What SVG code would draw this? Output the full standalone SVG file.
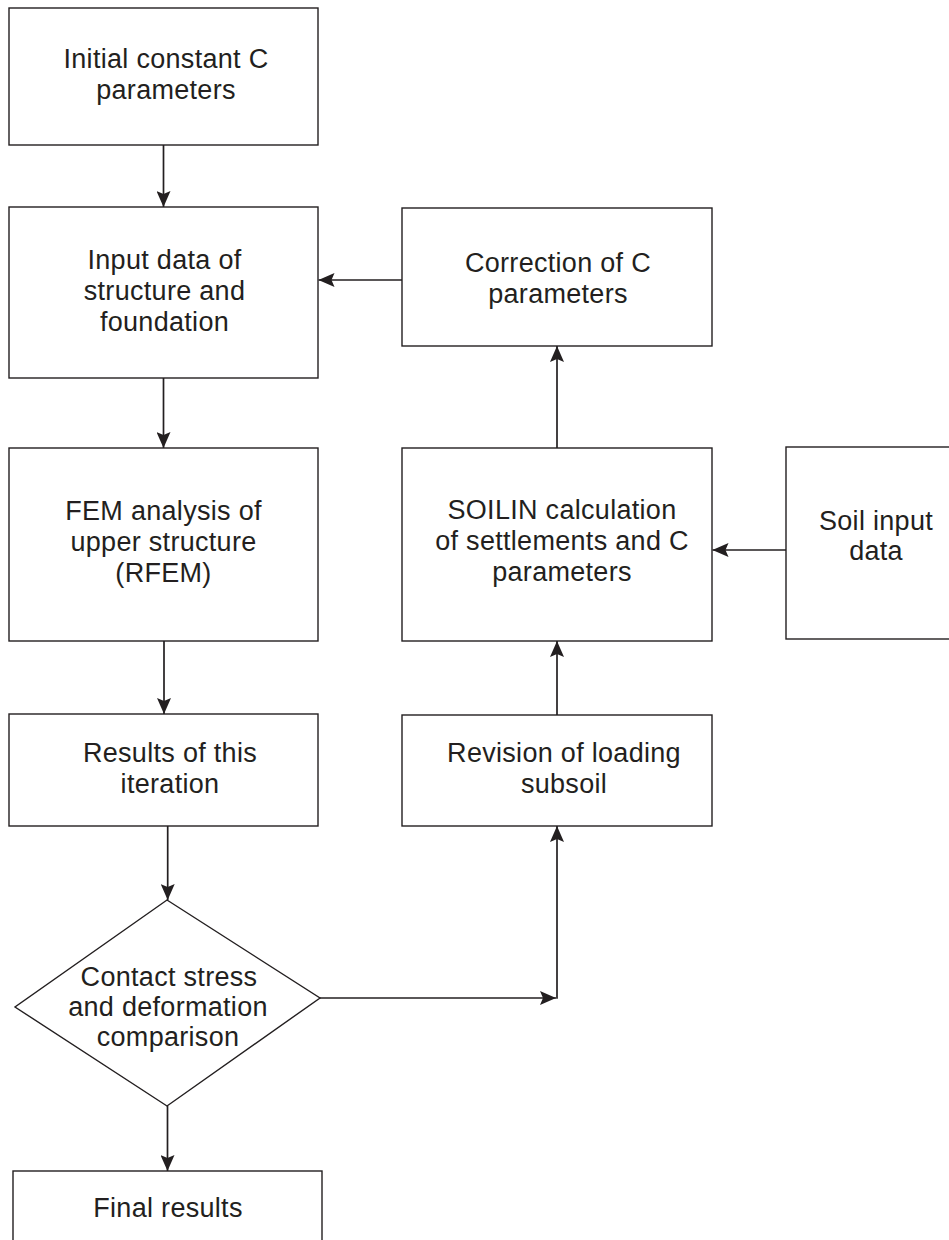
<svg xmlns="http://www.w3.org/2000/svg" width="949" height="1240" viewBox="0 0 949 1240">
<style>
.box{fill:#fff;stroke:#231f20;stroke-width:1.4}
.lbl{font-family:"Liberation Sans",Arial,sans-serif;font-size:27px;letter-spacing:0.3px;fill:#231f20;text-anchor:middle}
.con{fill:none;stroke:#231f20;stroke-width:1.7}
</style>
<defs>
<marker id="ah" viewBox="0 0 16 14" refX="16" refY="7" markerWidth="16" markerHeight="14" markerUnits="userSpaceOnUse" orient="auto">
<path d="M16,7 L0,0 L3,7 L0,14 Z" fill="#231f20"/>
</marker>
</defs>
<rect width="949" height="1240" fill="#fff"/>
<g id="n-initial"><rect class="box" x="9" y="8" width="309" height="137"/>
<text class="lbl" x="166" y="68">Initial constant C</text><text class="lbl" x="166" y="99">parameters</text></g>
<g id="n-input"><rect class="box" x="9" y="207" width="309" height="171"/>
<text class="lbl" x="164.5" y="269">Input data of</text><text class="lbl" x="164.5" y="300">structure and</text><text class="lbl" x="164.5" y="331">foundation</text></g>
<g id="n-fem"><rect class="box" x="9" y="448" width="309" height="193"/>
<text class="lbl" x="163.5" y="520">FEM analysis of</text><text class="lbl" x="163.5" y="551">upper structure</text><text class="lbl" x="163.5" y="582">(RFEM)</text></g>
<g id="n-results"><rect class="box" x="9" y="714" width="309" height="112"/>
<text class="lbl" x="170" y="762">Results of this</text><text class="lbl" x="170" y="793">iteration</text></g>
<g id="n-compare"><polygon class="box" points="167,900 320,998 167,1106 15,1007"/>
<text class="lbl" x="169" y="986">Contact stress</text><text class="lbl" x="168" y="1016">and deformation</text><text class="lbl" x="168" y="1046">comparison</text></g>
<g id="n-final"><rect class="box" x="13" y="1171" width="309" height="80"/>
<text class="lbl" x="168" y="1217">Final results</text></g>
<g id="n-correction"><rect class="box" x="402" y="208" width="310" height="138"/>
<text class="lbl" x="558" y="272">Correction of C</text><text class="lbl" x="558" y="303">parameters</text></g>
<g id="n-soilin"><rect class="box" x="402" y="448" width="310" height="193"/>
<text class="lbl" x="562" y="519">SOILIN calculation</text><text class="lbl" x="562" y="550">of settlements and C</text><text class="lbl" x="562" y="581">parameters</text></g>
<g id="n-soil"><rect class="box" x="786" y="447" width="180" height="192"/>
<text class="lbl" x="876" y="530">Soil input</text><text class="lbl" x="876" y="560">data</text></g>
<g id="n-revision"><rect class="box" x="402" y="715" width="310" height="111"/>
<text class="lbl" x="564" y="762">Revision of loading</text><text class="lbl" x="564" y="793">subsoil</text></g>
<g id="connectors">
<line class="con" x1="163.5" y1="145" x2="163.5" y2="207" marker-end="url(#ah)"/>
<line class="con" x1="163.5" y1="378" x2="163.5" y2="448" marker-end="url(#ah)"/>
<line class="con" x1="164" y1="641" x2="164" y2="714" marker-end="url(#ah)"/>
<line class="con" x1="167.7" y1="826" x2="167.7" y2="900" marker-end="url(#ah)"/>
<line class="con" x1="167.5" y1="1106" x2="167.5" y2="1171" marker-end="url(#ah)"/>
<line class="con" x1="402" y1="280" x2="318.5" y2="280" marker-end="url(#ah)"/>
<line class="con" x1="557" y1="448" x2="557" y2="346" marker-end="url(#ah)"/>
<line class="con" x1="786" y1="550" x2="712.5" y2="550" marker-end="url(#ah)"/>
<line class="con" x1="557" y1="715" x2="557" y2="641" marker-end="url(#ah)"/>
<line class="con" x1="320" y1="998" x2="556" y2="998" marker-end="url(#ah)"/>
<line class="con" x1="557" y1="998.8" x2="557" y2="826" marker-end="url(#ah)"/>
</g>
</svg>
